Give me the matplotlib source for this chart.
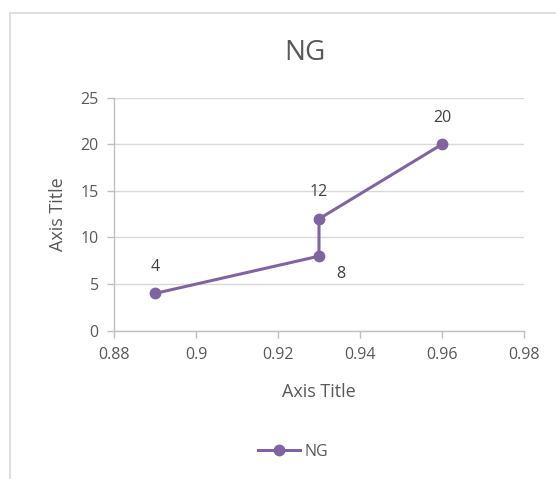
import matplotlib
matplotlib.use("Agg")
import matplotlib.pyplot as plt
from matplotlib.patches import Rectangle

# Series data
x_vals = [0.89, 0.93, 0.93, 0.96]
y_vals = [4, 8, 12, 20]
series_name = "NG"
x_ticks = [0.88, 0.9, 0.92, 0.94, 0.96, 0.98]
y_ticks = [0, 5, 10, 15, 20, 25]

purple = "#8064A2"
text_gray = "#595959"
grid_gray = "#D9D9D9"
axis_gray = "#BFBFBF"

plt.rcParams["font.family"] = ["Open Sans", "DejaVu Sans"]

W, H = 556, 479
fig = plt.figure(figsize=(W / 100, H / 100), dpi=100)
fig.patch.set_facecolor("white")

# chart frame (cut off at the right and bottom)
fig.add_artist(Rectangle((10 / W, -0.05), 1.1, 1 - 13 / H + 0.05,
                         transform=fig.transFigure, fill=False,
                         edgecolor="#D9D9D9", linewidth=1.2))

ax = fig.add_axes([114 / W, 1 - 330.7 / H, (524 - 114) / W, (330.7 - 97.7) / H])
ax.plot(x_vals, y_vals, color=purple, linewidth=2.2, marker="o",
        markersize=7.5, label=series_name, zorder=3)

ax.set_xlim(0.88, 0.98)
ax.set_ylim(0, 25)
ax.set_xticks(x_ticks)
ax.set_xticklabels([f"{t:g}" for t in x_ticks])
ax.set_yticks(y_ticks)
ax.grid(axis="y", color=grid_gray, linewidth=1)
ax.set_axisbelow(True)

for side in ("top", "right"):
    ax.spines[side].set_visible(False)
for side in ("left", "bottom"):
    ax.spines[side].set_color(axis_gray)
    ax.spines[side].set_linewidth(1)
ax.tick_params(axis="both", colors=axis_gray, length=5, width=1,
               labelcolor=text_gray, labelsize=11.5)
ax.tick_params(axis="x", pad=7)
ax.tick_params(axis="y", pad=6)

ax.set_xlabel("Axis Title", color=text_gray, fontsize=13, labelpad=14)
ax.set_ylabel("Axis Title", color=text_gray, fontsize=13, labelpad=10)
fig.text(0.5 + 27 / W, 1 - 53 / H, "NG", color=text_gray, fontsize=20,
         ha="center", va="center")

# data labels
offsets = [(0, 19), (16, -13), (0, 19), (0, 19)]
for xv, yv, (dx, dy) in zip(x_vals, y_vals, offsets):
    ax.annotate(f"{yv}", (xv, yv), xytext=(dx, dy), textcoords="offset points",
                ha="center", va="center", color="#404040", fontsize=11.5)

leg = fig.legend(loc="center", bbox_to_anchor=(293 / W, 1 - 452 / H),
                 frameon=False, fontsize=11.5, handlelength=2.6,
                 handletextpad=0.3)
for t in leg.get_texts():
    t.set_color(text_gray)

fig.savefig("out.png", dpi=100)
